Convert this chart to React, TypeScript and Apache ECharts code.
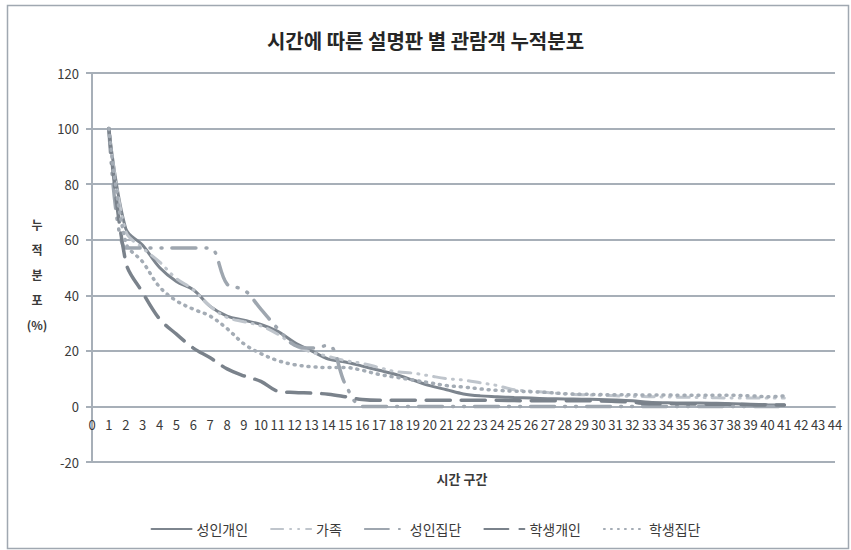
import React, { useEffect, useRef } from "react";
import * as echarts from "echarts";

const timeBins = [1, 2, 3, 4, 5, 6, 7, 8, 9, 10, 11, 12, 13, 14, 15, 16, 17, 18, 19, 20, 21, 22, 23, 24, 25, 26, 27, 28, 29, 30, 31, 32, 33, 34, 35, 36, 37, 38, 39, 40, 41];

const adultIndiv = [100, 64, 58, 50, 45, 42, 36, 32.5, 31, 29.5, 27, 23, 20, 17, 16, 14.5, 13, 11.5, 9.5, 7.5, 6, 4.5, 3.8, 3.5, 3.2, 3, 2.8, 2.7, 2.6, 2.5, 2.3, 2, 1.5, 1.3, 1.2, 1.2, 1.1, 1, 0.8, 0.6, 0.5];
const family = [100, 63, 57, 52, 46, 42, 36, 32, 30.5, 29, 26, 22, 19.5, 18, 16.5, 15.5, 14, 12.5, 12, 11, 10, 9.5, 8.5, 7.5, 6, 5.5, 5, 4.5, 4.2, 4, 3.8, 3.6, 3.5, 3.4, 3.3, 3.2, 3.1, 3, 3, 3, 3];
const adultGroup = [100, 57, 57, 57, 57, 57, 57, 44, 42, 35, 28, 22, 21, 22, 8, 0, 0, 0, 0, 0, 0, 0, 0, 0, 0, 0, 0, 0, 0, 0, 0, 0, 0, 0, 0, 0, 0, 0, 0, 0, 0];
const studentIndiv = [100, 52, 41, 31.5, 26, 21, 17.5, 13.5, 11, 9, 5.5, 5, 4.8, 4.4, 3.5, 2.5, 2.2, 2.2, 2.2, 2.2, 2.2, 2.2, 2.2, 2.2, 2.1, 2, 2, 2, 2, 2, 1.8, 1.5, 1, 1, 1, 0.8, 0.8, 0.7, 0.6, 0.5, 0.5];
const studentGroup = [100, 59, 52, 43, 38, 35, 32.5, 28, 22.5, 19, 16.5, 15, 14.3, 14, 14, 13, 11.5, 10.5, 9.5, 8.5, 7.5, 7, 6.3, 5.8, 5.5, 5.3, 5, 4.6, 4.4, 4.3, 4.2, 4.2, 4.1, 4.1, 4, 4, 4, 4, 3.8, 3.5, 3.8];

const seriesNames = ["성인개인", "가족", "성인집단", "학생개인", "학생집단"];

const FONT = "'Noto Sans CJK KR', 'Noto Sans', sans-serif";
const GRID = "#a7afb8";
const TEXT = "#3a3a3a";

export default function App() {
  const ref = useRef<HTMLDivElement>(null);

  useEffect(() => {
    if (!ref.current) return;
    const chart = echarts.init(ref.current, undefined, { renderer: "svg" });
    const pts = (arr: number[]) => timeBins.map((t, i) => [t, arr[i]]);

    const styles = [
      { color: "#7d858e", width: 3, type: "solid" as any },
      { color: "#bfc5cc", width: 3, type: [12, 7, 1, 7, 1, 7] },
      { color: "#9ea6af", width: 3.5, type: [24, 10, 1, 10, 1, 10] },
      { color: "#7a828b", width: 3.5, type: [24, 11] },
      { color: "#a4acb5", width: 3.5, type: [1, 6] },
    ];
    const datasets = [adultIndiv, family, adultGroup, studentIndiv, studentGroup];

    chart.setOption({
      animation: false,
      backgroundColor: "#ffffff",
      textStyle: { fontFamily: FONT },
      title: {
        text: "시간에 따른 설명판 별 관람객 누적분포",
        left: "center",
        top: 25,
        textStyle: { fontSize: 20, fontWeight: "bold", color: "#262626", fontFamily: FONT },
      },
      grid: { left: 92, right: 16, top: 73, bottom: 88 },
      xAxis: {
        type: "value",
        min: 0,
        max: 44,
        interval: 1,
        position: "bottom",
        offset: -55.6,
        axisLine: { onZero: false, lineStyle: { color: GRID, width: 2 } },
        axisTick: { show: false },
        splitLine: { show: false },
        axisLabel: { fontSize: 13, color: TEXT, margin: 12, fontFamily: FONT },
      },
      yAxis: {
        type: "value",
        min: -20,
        max: 120,
        interval: 20,
        axisLine: { show: true, lineStyle: { color: GRID, width: 2 } },
        axisTick: { show: true, length: 6, lineStyle: { color: GRID, width: 2 } },
        splitLine: { show: true, lineStyle: { color: GRID, width: 2 } },
        axisLabel: { fontSize: 13, color: TEXT, margin: 13, fontFamily: FONT },
      },
      legend: {
        data: seriesNames,
        left: "center",
        top: 517,
        itemWidth: 40,
        itemHeight: 10,
        itemGap: 22,
        itemStyle: { opacity: 0 },
        textStyle: { fontSize: 14, color: TEXT, fontFamily: FONT },
      },
      graphic: [
        {
          type: "rect",
          left: 5,
          top: 3,
          shape: { x: 0, y: 0, width: 841, height: 543 },
          style: { fill: "none", stroke: "#a0a8b1", lineWidth: 1.5 },
          silent: true,
        },
        {
          type: "text",
          x: 37,
          y: 212,
          style: {
            text: "누\n적\n분\n포\n(%)",
            fontSize: 12,
            fontWeight: "bold",
            lineHeight: 25,
            fill: TEXT,
            align: "center",
            verticalAlign: "top",
            fontFamily: FONT,
          },
        },
        {
          type: "text",
          x: 462,
          y: 478,
          style: {
            text: "시간 구간",
            fontSize: 13,
            fontWeight: "bold",
            fill: TEXT,
            align: "center",
            verticalAlign: "middle",
            fontFamily: FONT,
          },
        },
      ],
      series: datasets.map((arr, k) => ({
        name: seriesNames[k],
        type: "line",
        data: pts(arr),
        symbol: "none",
        smooth: 0.35,
        lineStyle: { ...styles[k], cap: "round" },
        itemStyle: { color: styles[k].color },
        z: 2 + k,
      })),
    });
    return () => chart.dispose();
  }, []);

  return (
    <div
      ref={ref}
      style={{ position: "absolute", left: 0, top: 0, width: 851, height: 550 }}
    />
  );
}
